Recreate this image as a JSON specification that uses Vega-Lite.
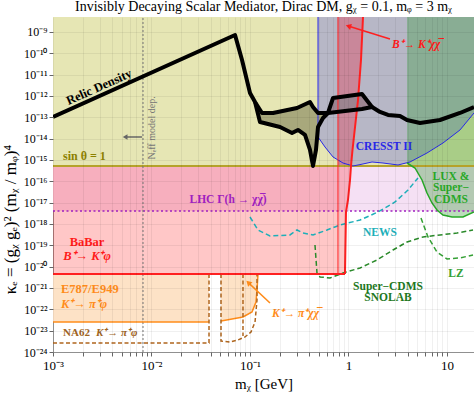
{
"$schema": "https://vega.github.io/schema/vega-lite/v6.json",
"width": 421, "height": 335,
"autosize": {"type": "none"},
"padding": {"left": 53, "top": 17, "right": 0, "bottom": 42},
"background": "white",
"config": {"font": "Liberation Serif", "view": {"stroke": "#999", "strokeWidth": 1}},
"title": {"text": "Invisibly Decaying Scalar Mediator, Dirac DM,  gᵪ = 0.1,   mᵩ = 3 mᵪ", "fontSize": 14, "fontWeight": "normal", "font": "Liberation Serif", "offset": 1, "color": "black"},
"datasets": {
"bandLHC": [{"x": 0.001, "x2": 18.8, "y": 4.06e-18, "y2": 5.2e-16}],
"bandSin": [{"x": 0.001, "x2": 18.8, "y": 5.2e-16, "y2": 5e-9}],
"babar": [{"x": 0.001, "y": 4.53e-21, "y2": 5.2e-16}, {"x": 0.921, "y": 4.53e-21, "y2": 5.2e-16}, {"x": 0.943, "y": 3.64e-18, "y2": 5.2e-16}, {"x": 0.988, "y": 1.33e-17, "y2": 5.2e-16}, {"x": 1.036, "y": 1.15e-16, "y2": 5.2e-16}, {"x": 1.060, "y": 5.2e-16, "y2": 5.2e-16}],
"bkchi": [{"x": 0.782, "y": 5.2e-16, "y2": 5e-9}, {"x": 1.060, "y": 5.2e-16, "y2": 5e-9}, {"x": 1.098, "y": 2.93e-15, "y2": 5e-9}, {"x": 1.249, "y": 6.45e-13, "y2": 5e-9}, {"x": 1.339, "y": 4.83e-11, "y2": 5e-9}, {"x": 1.404, "y": 5e-9, "y2": 5e-9}],
"redBound": [{"g": "b", "o": 1, "x": 0.921, "y": 4.53e-21}, {"g": "b", "o": 2, "x": 0.943, "y": 3.64e-18}, {"g": "b", "o": 3, "x": 0.988, "y": 1.33e-17}, {"g": "b", "o": 4, "x": 1.036, "y": 1.15e-16}, {"g": "b", "o": 5, "x": 1.060, "y": 5.2e-16}, {"g": "b", "o": 6, "x": 1.098, "y": 2.93e-15}, {"g": "b", "o": 7, "x": 1.249, "y": 6.45e-13}, {"g": "b", "o": 8, "x": 1.339, "y": 4.83e-11}, {"g": "b", "o": 9, "x": 1.404, "y": 5e-9}, {"g": "t", "o": 1, "x": 0.001, "y": 4.53e-21}, {"g": "t", "o": 2, "x": 0.921, "y": 4.53e-21}],
"redThin": [{"o": 1, "x": 0.782, "y": 4.53e-21}, {"o": 2, "x": 0.782, "y": 5e-9}],
"e787": [{"g": "a", "o": 1, "x": 0.001, "y": 2.55e-23, "y2": 4.53e-21}, {"g": "a", "o": 2, "x": 0.03836, "y": 2.55e-23, "y2": 4.53e-21}, {"g": "b", "o": 1, "x": 0.0508, "y": 2.84e-23, "y2": 4.53e-21}, {"g": "b", "o": 2, "x": 0.0849, "y": 4.38e-23, "y2": 4.53e-21}, {"g": "b", "o": 3, "x": 0.1048, "y": 7.5e-23, "y2": 4.53e-21}, {"g": "b", "o": 4, "x": 0.1150, "y": 2.21e-22, "y2": 4.53e-21}, {"g": "b", "o": 5, "x": 0.1178, "y": 8.05e-22, "y2": 4.53e-21}, {"g": "b", "o": 6, "x": 0.1206, "y": 4.53e-21, "y2": 4.53e-21}],
"na62": [{"g": "a", "o": 1, "x": 0.001, "y": 2.65e-24}, {"g": "a", "o": 2, "x": 0.03836, "y": 2.65e-24}, {"g": "a", "o": 3, "x": 0.03836, "y": 4.53e-21}, {"g": "b", "o": 1, "x": 0.0508, "y": 4.53e-21}, {"g": "b", "o": 2, "x": 0.0508, "y": 3.28e-24}, {"g": "b", "o": 3, "x": 0.0627, "y": 2.95e-24}, {"g": "b", "o": 4, "x": 0.0755, "y": 3.66e-24}, {"g": "b", "o": 5, "x": 0.0890, "y": 5.06e-24}, {"g": "b", "o": 6, "x": 0.1024, "y": 8.67e-24}, {"g": "b", "o": 7, "x": 0.1125, "y": 2.55e-23}, {"g": "b", "o": 8, "x": 0.1178, "y": 2.74e-22}, {"g": "b", "o": 9, "x": 0.1178, "y": 4.53e-21}, {"g": "c", "o": 1, "x": 0.0849, "y": 4.53e-21}, {"g": "c", "o": 2, "x": 0.0849, "y": 5.64e-24}],
"cresst": [{"o": 0, "x": 0.4903, "y": 5e-9, "y2": 5e-9}, {"o": 1, "x": 0.4903, "y": 1.19e-14, "y2": 5e-9}, {"o": 2, "x": 0.5775, "y": 4.05e-15, "y2": 5e-9}, {"o": 3, "x": 0.6963, "y": 1.38e-15, "y2": 5e-9}, {"o": 4, "x": 0.8794, "y": 7.19e-16, "y2": 5e-9}, {"o": 5, "x": 1.111, "y": 5.21e-16, "y2": 5e-9}, {"o": 6, "x": 1.404, "y": 6.47e-16, "y2": 5e-9}, {"o": 7, "x": 1.733, "y": 8.02e-16, "y2": 5e-9}, {"o": 8, "x": 2.240, "y": 7.19e-16, "y2": 5e-9}, {"o": 9, "x": 3.181, "y": 5.8e-16, "y2": 5e-9}, {"o": 10, "x": 4.210, "y": 8.02e-16, "y2": 5e-9}, {"o": 11, "x": 6.266, "y": 2.12e-15, "y2": 5e-9}, {"o": 12, "x": 9.108, "y": 6.24e-15, "y2": 5e-9}, {"o": 13, "x": 13.55, "y": 2.54e-14, "y2": 5e-9}, {"o": 14, "x": 18.8, "y": 1.59e-13, "y2": 5e-9}],
"lux": [{"x": 3.926, "y": 7.19e-16, "y2": 5e-9}, {"x": 4.732, "y": 4.20e-16, "y2": 5e-9}, {"x": 5.574, "y": 1.15e-16, "y2": 5e-9}, {"x": 6.266, "y": 2.83e-17, "y2": 5e-9}, {"x": 7.043, "y": 9.62e-18, "y2": 5e-9}, {"x": 7.914, "y": 4.52e-18, "y2": 5e-9}, {"x": 9.108, "y": 2.64e-18, "y2": 5e-9}, {"x": 11.24, "y": 2.12e-18, "y2": 5e-9}, {"x": 14.53, "y": 2.12e-18, "y2": 5e-9}, {"x": 18.8, "y": 3.64e-18, "y2": 5e-9}],
"news": [{"x": 0.100, "y": 2.12e-18}, {"x": 0.1206, "y": 5.22e-19}, {"x": 0.1596, "y": 2.73e-19}, {"x": 0.2547, "y": 3.05e-19}, {"x": 0.300, "y": 5.22e-19}, {"x": 0.3452, "y": 3.78e-19}, {"x": 0.4361, "y": 3.05e-19}, {"x": 0.6049, "y": 5.22e-19}, {"x": 0.820, "y": 8.95e-19}, {"x": 1.309, "y": 1.53e-18}, {"x": 1.993, "y": 3.64e-18}, {"x": 2.967, "y": 1.07e-17}, {"x": 4.019, "y": 3.91e-17}, {"x": 5.076, "y": 1.43e-16}],
"scdms": [{"o": 1, "x": 0.4569, "y": 1.04e-19}, {"o": 2, "x": 0.4788, "y": 5.05e-21}, {"o": 3, "x": 0.5137, "y": 3.28e-21}, {"o": 4, "x": 0.6490, "y": 2.94e-21}, {"o": 5, "x": 0.8794, "y": 5.05e-21}, {"o": 6, "x": 1.309, "y": 8.65e-21}, {"o": 7, "x": 1.946, "y": 2.05e-20}, {"o": 8, "x": 2.830, "y": 6.04e-20}, {"o": 9, "x": 3.926, "y": 1.43e-19}, {"o": 10, "x": 5.704, "y": 2.45e-19}, {"o": 11, "x": 8.49, "y": 3.05e-19}, {"o": 12, "x": 12.63, "y": 3.78e-19}, {"o": 13, "x": 18.37, "y": 5.22e-19}],
"lz": [{"x": 5.445, "y": 1.91e-18}, {"x": 6.413, "y": 2.45e-19}, {"x": 7.914, "y": 4.86e-20}, {"x": 10.0, "y": 2.29e-20}, {"x": 13.55, "y": 2.55e-20}, {"x": 18.37, "y": 3.52e-20}],
"relicFill": [{"x": 0.1125, "y": 5.2e-13, "y2": 5.2e-13}, {"x": 0.1263, "y": 2.19e-13, "y2": 6.01e-14}, {"x": 0.1324, "y": 1.59e-13, "y2": 5.69e-14}, {"x": 0.1712, "y": 1.59e-13, "y2": 4.21e-14}, {"x": 0.2017, "y": 1.87e-13, "y2": 3.50e-14}, {"x": 0.2670, "y": 2.44e-13, "y2": 1.83e-14}, {"x": 0.300, "y": 2.72e-13, "y2": 2.40e-14}, {"x": 0.3071, "y": 2.72e-13, "y2": 2.54e-14}, {"x": 0.3618, "y": 4.06e-13, "y2": 1.48e-14}, {"x": 0.4065, "y": 5.2e-13, "y2": 2.93e-15}, {"x": 0.4361, "y": 3.03e-13, "y2": 5.21e-16}, {"x": 0.4678, "y": 1.89e-13, "y2": 2.93e-15}, {"x": 0.4903, "y": 1.59e-13, "y2": 3.50e-14}, {"x": 0.5510, "y": 1.59e-13, "y2": 9.25e-14}, {"x": 0.6193, "y": 1.59e-13, "y2": 1.59e-13}],
"loopFill": [{"x": 0.6193, "y": 1.59e-13, "y2": 1.59e-13}, {"x": 0.6963, "y": 8.0e-13, "y2": 1.67e-13}, {"x": 1.371, "y": 1.23e-12, "y2": 2.44e-13}, {"x": 1.733, "y": 3.03e-13, "y2": 3.03e-13}],
"relic": [
{"g": "a", "o": 1, "x": 0.001, "y": 1.03e-13}, {"g": "a", "o": 2, "x": 0.0705, "y": 7.17e-10}, {"g": "a", "o": 3, "x": 0.0830, "y": 4.83e-11}, {"g": "a", "o": 4, "x": 0.100, "y": 1.37e-12}, {"g": "a", "o": 5, "x": 0.1125, "y": 5.2e-13}, {"g": "a", "o": 6, "x": 0.1324, "y": 1.59e-13}, {"g": "a", "o": 7, "x": 0.1712, "y": 1.59e-13}, {"g": "a", "o": 8, "x": 0.300, "y": 2.72e-13}, {"g": "a", "o": 9, "x": 0.4065, "y": 5.2e-13}, {"g": "a", "o": 10, "x": 0.4361, "y": 3.03e-13}, {"g": "a", "o": 11, "x": 0.4903, "y": 1.59e-13}, {"g": "a", "o": 12, "x": 0.6193, "y": 1.59e-13}, {"g": "a", "o": 13, "x": 1.371, "y": 2.44e-13}, {"g": "a", "o": 14, "x": 1.733, "y": 3.03e-13}, {"g": "a", "o": 15, "x": 2.088, "y": 1.77e-13}, {"g": "a", "o": 16, "x": 2.518, "y": 1.28e-13}, {"g": "a", "o": 17, "x": 3.333, "y": 1.15e-13}, {"g": "a", "o": 18, "x": 3.926, "y": 7.45e-14}, {"g": "a", "o": 19, "x": 5.32, "y": 5.39e-14}, {"g": "a", "o": 20, "x": 8.49, "y": 7.45e-14}, {"g": "a", "o": 21, "x": 13.55, "y": 1.59e-13}, {"g": "a", "o": 22, "x": 18.8, "y": 3.03e-13},
{"g": "b", "o": 1, "x": 0.1125, "y": 5.2e-13}, {"g": "b", "o": 2, "x": 0.1263, "y": 6.01e-14}, {"g": "b", "o": 3, "x": 0.2017, "y": 3.50e-14}, {"g": "b", "o": 4, "x": 0.2670, "y": 1.83e-14}, {"g": "b", "o": 5, "x": 0.3071, "y": 2.54e-14}, {"g": "b", "o": 6, "x": 0.3618, "y": 1.48e-14}, {"g": "b", "o": 7, "x": 0.4065, "y": 2.93e-15}, {"g": "b", "o": 8, "x": 0.4361, "y": 5.21e-16}, {"g": "b", "o": 9, "x": 0.4678, "y": 2.93e-15}, {"g": "b", "o": 10, "x": 0.4903, "y": 3.50e-14}, {"g": "b", "o": 11, "x": 0.5510, "y": 9.25e-14}, {"g": "b", "o": 12, "x": 0.6193, "y": 1.59e-13},
{"g": "c", "o": 1, "x": 0.6193, "y": 1.59e-13}, {"g": "c", "o": 2, "x": 0.6963, "y": 8.0e-13}, {"g": "c", "o": 3, "x": 1.371, "y": 1.23e-12}, {"g": "c", "o": 4, "x": 1.733, "y": 3.03e-13}],
"lhcLine": [{"x": 0.001, "y": 4.06e-18}, {"x": 18.8, "y": 4.06e-18}],
"sinLine": [{"x": 0.001, "y": 5.2e-16}, {"x": 18.8, "y": 5.2e-16}],
"neffLine": [{"o": 1, "x": 0.0082, "y": 1e-24}, {"o": 2, "x": 0.0082, "y": 5e-9}],
"arrowNeff": [{"x": 0.0080, "y": 1.19e-14}, {"x": 0.0056, "y": 1.19e-14}],
"headNeff": [{"x": 0.0054, "y": 1.19e-14}],
"arrowBK": [{"x": 2.638, "y": 4.66e-10}, {"x": 1.03, "y": 1.78e-9}],
"headBK": [{"x": 0.998, "y": 1.86e-9}],
"arrowKpi": [{"x": 0.1596, "y": 1.98e-22}, {"x": 0.0985, "y": 1.6e-21}],
"headKpi": [{"x": 0.0962, "y": 1.8e-21}],
"labels": [
{"k": "relic", "t": "Relic Density", "x": 0.00293, "y": 2.62e-12},
{"k": "sin", "t": "sin θ = 1", "x": 0.001264, "y": 1.53e-15},
{"k": "neff", "t": "Nₑff model dep.", "x": 0.01012, "y": 3.15e-14},
{"k": "lhc", "t": "LHC Γ(h → χχ̅)", "x": 0.0598, "y": 1.33e-17},
{"k": "cresst", "t": "CRESST II", "x": 2.293, "y": 4.05e-15},
{"k": "lux", "t": "LUX &", "x": 10.98, "y": 1.59e-16},
{"k": "lux", "t": "Super−", "x": 10.98, "y": 4.85e-17},
{"k": "lux", "t": "CDMS", "x": 10.98, "y": 1.33e-17},
{"k": "news", "t": "NEWS", "x": 2.088, "y": 3.78e-19},
{"k": "lz", "t": "LZ", "x": 12.34, "y": 4.53e-21},
{"k": "scdms", "t": "Super−CDMS", "x": 2.518, "y": 1.11e-21},
{"k": "scdms", "t": "SNOLAB", "x": 2.518, "y": 3.40e-22},
{"k": "babar", "t": "BaBar", "x": 0.002214, "y": 1.43e-19},
{"k": "babarI", "t": "B⁺→ K⁺φ", "x": 0.002214, "y": 3.16e-20},
{"k": "e787", "t": "E787/E949", "x": 0.001206, "y": 8.97e-22},
{"k": "e787I", "t": "K⁺→ π⁺φ", "x": 0.001206, "y": 1.78e-22},
{"k": "na62", "t": "NA62", "x": 0.001264, "y": 7.78e-24},
{"k": "na62I", "t": "K⁺→ π⁺φ", "x": 0.002732, "y": 7.78e-24},
{"k": "kpi", "t": "K⁺→ π⁺χχ̅", "x": 0.1673, "y": 6.05e-23},
{"k": "bk", "t": "B⁺→ K⁺χχ̅", "x": 2.764, "y": 2.44e-10}]
},
"encoding": {
"x": {"field": "x", "type": "quantitative", "scale": {"type": "log", "domain": [0.001, 18.8], "nice": false},
 "axis": {"title": "mᵪ [GeV]", "titleFontSize": 15, "titleFontWeight": "normal", "titleColor": "black", "titlePadding": 4,
  "values": [0.001,0.002,0.003,0.004,0.005,0.006,0.007,0.008,0.009,0.01,0.02,0.03,0.04,0.05,0.06,0.07,0.08,0.09,0.1,0.2,0.3,0.4,0.5,0.6,0.7,0.8,0.9,1,2,3,4,5,6,7,8,9,10],
  "labelExpr": "datum.value==0.001?'10⁻³':datum.value==0.01?'10⁻²':datum.value==0.1?'10⁻¹':datum.value==1?'1':datum.value==10?'10':''",
  "labelFontSize": 13, "labelColor": "black", "labelFlush": false, "labelOverlap": false, "labelPadding": 3,
  "grid": true, "gridColor": "#000", "gridOpacity": 0.06, "domain": false, "tickSize": 4, "tickColor": "#666", "zindex": 1}},
"y": {"field": "y", "type": "quantitative", "scale": {"type": "log", "domain": [1e-24, 5e-9], "nice": false},
 "axis": {"title": "κₑ  =  (gᵪ gₑ)² (mᵪ / mᵩ)⁴", "titleFontSize": 17, "titleFontWeight": "normal", "titleColor": "black", "titlePadding": 4, "titleY": 202,
  "values": [1e-24,1e-23,1e-22,1e-21,1e-20,1e-19,1e-18,1e-17,1e-16,1e-15,1e-14,1e-13,1e-12,1e-11,1e-10,1e-9],
  "labelExpr": "['10⁻⁹','10⁻¹⁰','10⁻¹¹','10⁻¹²','10⁻¹³','10⁻¹⁴','10⁻¹⁵','10⁻¹⁶','10⁻¹⁷','10⁻¹⁸','10⁻¹⁹','10⁻²⁰','10⁻²¹','10⁻²²','10⁻²³','10⁻²⁴'][round(-log(datum.value)/LN10)-9]",
  "labelFontSize": 12, "labelColor": "black", "labelFlush": false, "labelOverlap": false, "labelPadding": 2,
  "grid": true, "gridColor": "#000", "gridOpacity": 0.06, "domain": false, "tickSize": 4, "tickColor": "#666", "zindex": 1}}
},
"layer": [
{"data": {"name": "bandLHC"}, "mark": {"type": "rect", "color": "#f5e0f4"}, "encoding": {"x2": {"field": "x2"}, "y2": {"field": "y2"}}},
{"data": {"name": "babar"}, "mark": {"type": "area", "color": "#ff0000", "opacity": 0.22, "clip": true}, "encoding": {"y2": {"field": "y2"}}},
{"data": {"name": "e787"}, "mark": {"type": "area", "color": "#fde2c6", "clip": true}, "encoding": {"y2": {"field": "y2"}, "detail": {"field": "g"}}},
{"data": {"name": "bandSin"}, "mark": {"type": "rect", "color": "#e6e6b4"}, "encoding": {"x2": {"field": "x2"}, "y2": {"field": "y2"}}},
{"data": {"name": "cresst"}, "transform": [{"filter": "datum.o > 0"}], "mark": {"type": "area", "color": "#b7b7c6", "opacity": 1, "clip": true}, "encoding": {"y2": {"field": "y2"}}},
{"data": {"name": "lux"}, "mark": {"type": "area", "color": "#2e9a2e", "opacity": 0.33, "clip": true}, "encoding": {"y2": {"field": "y2"}}},
{"data": {"name": "bkchi"}, "mark": {"type": "area", "color": "#c9879a", "opacity": 1, "clip": true}, "encoding": {"y2": {"field": "y2"}}},
{"data": {"name": "relicFill"}, "mark": {"type": "area", "color": "#a8a87c", "opacity": 1, "clip": true}, "encoding": {"y2": {"field": "y2"}}},
{"data": {"name": "loopFill"}, "mark": {"type": "area", "color": "#9c8490", "opacity": 1, "clip": true}, "encoding": {"y2": {"field": "y2"}}},
{"data": {"name": "sinLine"}, "mark": {"type": "line", "color": "#b5a22a", "strokeWidth": 2}, "encoding": {}},
{"data": {"name": "lhcLine"}, "mark": {"type": "line", "color": "#a020c0", "strokeWidth": 1.5, "strokeDash": [2, 2.5]}, "encoding": {}},
{"data": {"name": "neffLine"}, "mark": {"type": "line", "color": "#777", "strokeWidth": 1, "strokeDash": [2, 2]}, "encoding": {"order": {"field": "o"}}},
{"data": {"name": "cresst"}, "mark": {"type": "line", "color": "#2828e6", "strokeWidth": 1, "clip": true}, "encoding": {"order": {"field": "o"}}},
{"data": {"name": "lux"}, "mark": {"type": "line", "color": "#28a828", "strokeWidth": 1.5, "clip": true}, "encoding": {}},
{"data": {"name": "news"}, "mark": {"type": "line", "color": "#1eafb9", "strokeWidth": 1.5, "strokeDash": [5, 3], "clip": true}, "encoding": {}},
{"data": {"name": "scdms"}, "mark": {"type": "line", "color": "#2a8a2a", "strokeWidth": 1.5, "strokeDash": [5, 3], "clip": true}, "encoding": {"order": {"field": "o"}}},
{"data": {"name": "lz"}, "mark": {"type": "line", "color": "#35a035", "strokeWidth": 1.5, "strokeDash": [5, 3], "clip": true}, "encoding": {}},
{"data": {"name": "e787"}, "transform": [{"filter": "datum.o < 6"}], "mark": {"type": "line", "color": "#ff8c1a", "strokeWidth": 1.5, "clip": true}, "encoding": {"detail": {"field": "g"}, "order": {"field": "o"}}},
{"data": {"name": "e787"}, "transform": [{"filter": "datum.g == 'b' && datum.o >= 5"}], "mark": {"type": "line", "color": "#ff8c1a", "strokeWidth": 1.5, "clip": true}, "encoding": {"order": {"field": "o"}}},
{"data": {"name": "na62"}, "mark": {"type": "line", "color": "#b0661e", "strokeWidth": 1.5, "strokeDash": [4, 2.5], "clip": true}, "encoding": {"detail": {"field": "g"}, "order": {"field": "o"}}},
{"data": {"name": "redThin"}, "mark": {"type": "line", "color": "#ff2020", "strokeWidth": 1, "clip": true}, "encoding": {"order": {"field": "o"}}},
{"data": {"name": "redBound"}, "mark": {"type": "line", "color": "#ff2020", "strokeWidth": 2, "clip": true}, "encoding": {"detail": {"field": "g"}, "order": {"field": "o"}}},
{"data": {"name": "relic"}, "mark": {"type": "line", "color": "black", "strokeWidth": 4, "strokeJoin": "round", "clip": true}, "encoding": {"detail": {"field": "g"}, "order": {"field": "o"}}},
{"data": {"name": "arrowNeff"}, "mark": {"type": "line", "color": "#666", "strokeWidth": 1.5}, "encoding": {}},
{"data": {"name": "headNeff"}, "mark": {"type": "point", "shape": "triangle-left", "filled": true, "color": "#666", "size": 30, "opacity": 1}, "encoding": {}},
{"data": {"name": "arrowBK"}, "mark": {"type": "line", "color": "#ff2020", "strokeWidth": 1.5}, "encoding": {}},
{"data": {"name": "headBK"}, "mark": {"type": "point", "shape": "triangle-up", "filled": true, "color": "#ff2020", "size": 40, "angle": 287, "opacity": 1}, "encoding": {}},
{"data": {"name": "arrowKpi"}, "mark": {"type": "line", "color": "#ff8c1a", "strokeWidth": 1.5}, "encoding": {}},
{"data": {"name": "headKpi"}, "mark": {"type": "point", "shape": "triangle-up", "filled": true, "color": "#ff8c1a", "size": 40, "angle": 314, "opacity": 1}, "encoding": {}},
{"data": {"name": "labels"}, "transform": [{"filter": "datum.k == 'relic'"}], "mark": {"type": "text", "fontSize": 12.5, "fontWeight": "bold", "color": "black", "angle": 336}, "encoding": {"text": {"field": "t"}}},
{"data": {"name": "labels"}, "transform": [{"filter": "datum.k == 'sin'"}], "mark": {"type": "text", "fontSize": 12, "fontWeight": "bold", "color": "#8c8000", "align": "left"}, "encoding": {"text": {"field": "t"}}},
{"data": {"name": "labels"}, "transform": [{"filter": "datum.k == 'neff'"}], "mark": {"type": "text", "fontSize": 10, "color": "#777", "angle": 270}, "encoding": {"text": {"field": "t"}}},
{"data": {"name": "labels"}, "transform": [{"filter": "datum.k == 'lhc'"}], "mark": {"type": "text", "fontSize": 11.5, "fontWeight": "bold", "color": "#a020c0"}, "encoding": {"text": {"field": "t"}}},
{"data": {"name": "labels"}, "transform": [{"filter": "datum.k == 'cresst'"}], "mark": {"type": "text", "fontSize": 11.5, "fontWeight": "bold", "color": "#2828e6"}, "encoding": {"text": {"field": "t"}}},
{"data": {"name": "labels"}, "transform": [{"filter": "datum.k == 'lux'"}], "mark": {"type": "text", "fontSize": 11.5, "fontWeight": "bold", "color": "#28a828"}, "encoding": {"text": {"field": "t"}}},
{"data": {"name": "labels"}, "transform": [{"filter": "datum.k == 'news'"}], "mark": {"type": "text", "fontSize": 11.5, "fontWeight": "bold", "color": "#1eafb9"}, "encoding": {"text": {"field": "t"}}},
{"data": {"name": "labels"}, "transform": [{"filter": "datum.k == 'lz'"}], "mark": {"type": "text", "fontSize": 11.5, "fontWeight": "bold", "color": "#35a035"}, "encoding": {"text": {"field": "t"}}},
{"data": {"name": "labels"}, "transform": [{"filter": "datum.k == 'scdms'"}], "mark": {"type": "text", "fontSize": 11.5, "fontWeight": "bold", "color": "#1e781e"}, "encoding": {"text": {"field": "t"}}},
{"data": {"name": "labels"}, "transform": [{"filter": "datum.k == 'babar'"}], "mark": {"type": "text", "fontSize": 12.5, "fontWeight": "bold", "color": "#ff1a1a"}, "encoding": {"text": {"field": "t"}}},
{"data": {"name": "labels"}, "transform": [{"filter": "datum.k == 'babarI'"}], "mark": {"type": "text", "fontSize": 12.5, "fontWeight": "bold", "fontStyle": "italic", "color": "#ff1a1a"}, "encoding": {"text": {"field": "t"}}},
{"data": {"name": "labels"}, "transform": [{"filter": "datum.k == 'e787'"}], "mark": {"type": "text", "fontSize": 12.5, "fontWeight": "bold", "color": "#ff8c1a", "align": "left"}, "encoding": {"text": {"field": "t"}}},
{"data": {"name": "labels"}, "transform": [{"filter": "datum.k == 'e787I'"}], "mark": {"type": "text", "fontSize": 12.5, "fontWeight": "bold", "fontStyle": "italic", "color": "#ff8c1a", "align": "left"}, "encoding": {"text": {"field": "t"}}},
{"data": {"name": "labels"}, "transform": [{"filter": "datum.k == 'na62'"}], "mark": {"type": "text", "fontSize": 11, "fontWeight": "bold", "color": "#a0641e", "align": "left"}, "encoding": {"text": {"field": "t"}}},
{"data": {"name": "labels"}, "transform": [{"filter": "datum.k == 'na62I'"}], "mark": {"type": "text", "fontSize": 11, "fontWeight": "bold", "fontStyle": "italic", "color": "#a0641e", "align": "left"}, "encoding": {"text": {"field": "t"}}},
{"data": {"name": "labels"}, "transform": [{"filter": "datum.k == 'kpi'"}], "mark": {"type": "text", "fontSize": 11.5, "fontWeight": "bold", "fontStyle": "italic", "color": "#ff8c1a", "align": "left"}, "encoding": {"text": {"field": "t"}}},
{"data": {"name": "labels"}, "transform": [{"filter": "datum.k == 'bk'"}], "mark": {"type": "text", "fontSize": 11.5, "fontWeight": "bold", "fontStyle": "italic", "color": "#ff1a1a", "align": "left"}, "encoding": {"text": {"field": "t"}}}
]
}
